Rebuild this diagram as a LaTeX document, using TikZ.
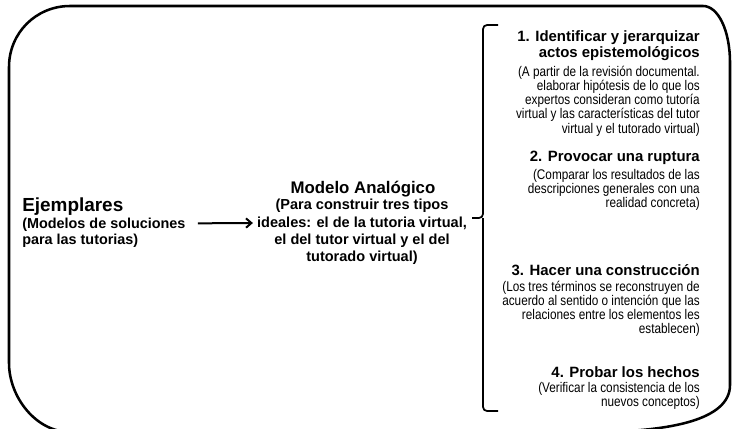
\documentclass[tikz,border=0pt]{standalone}
\usepackage{fontspec}
\setmainfont{Liberation Sans}
\newfontfamily\narrowfont[FakeStretch=0.84]{Liberation Sans}
\usetikzlibrary{arrows.meta,positioning}

\begin{document}
\begin{tikzpicture}[x=0.75pt, y=-0.75pt, >={Straight Barb[length=4pt,width=7pt]},
    bigtitle/.style={font=\bfseries\fontsize{14.2}{17}\selectfont, inner sep=0pt},
    boldtext/.style={font=\bfseries\fontsize{10.8}{12}\selectfont, inner sep=0pt},
    midtitle/.style={font=\bfseries\fontsize{12.6}{15}\selectfont, inner sep=0pt},
    midtext/.style={font=\bfseries\fontsize{10.9}{13}\selectfont, inner sep=0pt, align=center, anchor=north},
    stephead/.style={font=\bfseries\fontsize{11.2}{12}\selectfont, inner sep=0pt, align=right, anchor=north east},
    stepnote/.style={font=\narrowfont\fontsize{10.5}{10.6}\selectfont, inner sep=0pt, align=right, anchor=north east}]
        \useasboundingbox (0,0) rectangle (734,428);

        % outer frame
        \draw[line width=1.9pt] (70,6) -- (703,6) .. controls (718,6) and (730,30) .. (730,63)
            -- (730,385) .. controls (730,420) and (670,431) .. (600,432) -- (70,432)
            .. controls (36,432) and (9,397) .. (9,363) -- (9,67) .. controls (9,33) and (36,6) .. (70,6) -- cycle;

        % Ejemplares (left)
        \node[bigtitle, anchor=base west] (ejem) at (22,211) {Ejemplares};
        \node[boldtext, align=left, anchor=north west] (ejemtxt) at (22,218) {(Modelos de soluciones\\para las tutorias)};

        % Modelo Analogico (middle)
        \node[midtitle, anchor=base] (modelo) at (363,193) {Modelo Analógico};
        \node[midtext] (modelotxt) at (362,199) {(Para construir tres tipos\\ideales: el de la tutoria virtual,\\el del tutor virtual y el del\\tutorado virtual)};

        % arrow ejemplares -> modelo
        \draw[->, line width=1.5pt] ([xshift=9pt,yshift=-4pt]ejemtxt.north east) -- ([xshift=-3pt,yshift=-18pt]modelotxt.north west);

        % brace
        \coordinate (bracetop) at (498,25);
        \coordinate (bracebot) at (498,411);
        \coordinate (bracetip) at (472,218);
        \draw[line width=1.3pt, rounded corners=3pt] (bracetop) -- (483,25) -- (483,218) -- (bracetip);
        \draw[line width=1.3pt, rounded corners=3pt] (bracebot) -- (483,411) -- (483,218);

        % step 1
        \node[stephead] (step1) at (700,30) {1. Identificar y jerarquizar\\actos epistemológicos};
        \node[stepnote] (note1) at (700,66) {(A partir de la revisión documental.\\elaborar hipótesis de lo que los\\expertos consideran como tutoría\\virtual y las características del tutor\\virtual y el tutorado virtual)};

        % step 2
        \node[stephead] (step2) at (700,151) {2. Provocar una ruptura};
        \node[stepnote] (note2) at (700,169) {(Comparar los resultados de las\\descripciones generales con una\\realidad concreta)};

        % step 3
        \node[stephead] (step3) at (700,264) {3. Hacer una construcción};
        \node[stepnote] (note3) at (700,281) {(Los tres términos se reconstruyen de\\acuerdo al sentido o intención que las\\relaciones entre los elementos les\\establecen)};

        % step 4
        \node[stephead] (step4) at (700,366) {4. Probar los hechos};
        \node[stepnote] (note4) at (700,382) {(Verificar la consistencia de los\\nuevos conceptos)};

    \end{tikzpicture}
\end{document}
